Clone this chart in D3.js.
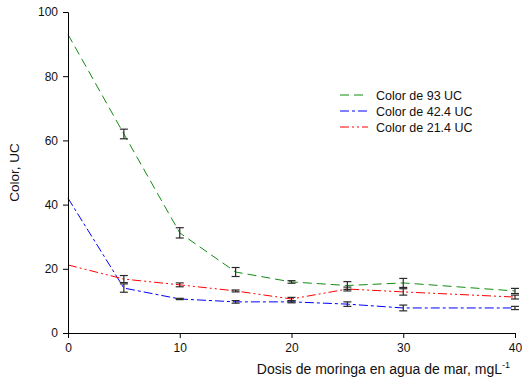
<!DOCTYPE html>
<html lang="en">
<head>
  <meta charset="UTF-8">
  <title>Color vs dosis de moringa</title>
  <style>
    body { margin: 0; background: #fff; }
    text { font-family: "Liberation Sans", Arial, sans-serif; fill: #111; }
  </style>
</head>
<body>
  <svg id="chart"></svg>

  <script src="https://d3js.org/d3.v7.min.js"></script>
  <script>
    const dosis = [0, 5, 10, 15, 20, 25, 30, 40];
    const color93 = [93, 62, 31.2, 19, 15.9, 14.8, 15.6, 13.1];
    const err93 = [0, 1.5, 1.6, 1.4, 0.4, 1.2, 1.4, 0.8];
    const color424 = [42, 14, 10.6, 9.7, 9.7, 9.0, 7.8, 7.8];
    const err424 = [0, 1.3, 0.2, 0.4, 0.3, 0.7, 0.9, 0.5];
    const color214 = [21.2, 16.8, 15, 13.1, 10.6, 13.7, 12.8, 11.2];
    const err214 = [0, 1.1, 0.6, 0.3, 0.5, 0.6, 1.0, 0.6];
    const seriesNames = ["Color de 93 UC", "Color de 42.4 UC", "Color de 21.4 UC"];
    const xTicks = [0, 10, 20, 30, 40];
    const yTicks = [0, 20, 40, 60, 80, 100];

    const W = 522, H = 387;
    const svg = d3.select("#chart")
      .attr("width", W)
      .attr("height", H);

    const x = d3.scaleLinear().domain([0, 40]).range([68, 515]);
    const y = d3.scaleLinear().domain([0, 100]).range([333, 12]);

    const series = [
      { name: seriesNames[0], vals: color93, err: err93, stroke: "#118c11", dash: "9,5" },
      { name: seriesNames[1], vals: color424, err: err424, stroke: "#0000ff", dash: "9,3,3,3" },
      { name: seriesNames[2], vals: color214, err: err214, stroke: "#ff0000", dash: "9,3,2,3,2,3" }
    ];

    const line = d3.line()
      .x((d, i) => x(dosis[i]))
      .y(d => y(d));

    series.forEach(s => {
      svg.append("path")
        .datum(s.vals)
        .attr("d", line)
        .attr("fill", "none")
        .attr("stroke", s.stroke)
        .attr("stroke-width", 1)
        .attr("stroke-dasharray", s.dash);
    });

    // error bars
    series.forEach(s => {
      const g = svg.append("g").attr("stroke", "#2a2a2a").attr("stroke-width", 1.2);
      s.vals.forEach((v, i) => {
        if (!s.err[i]) return;
        const cx = x(dosis[i]);
        const y1 = y(v + s.err[i]), y2 = y(v - s.err[i]);
        g.append("line").attr("x1", cx).attr("x2", cx).attr("y1", y1).attr("y2", y2);
        g.append("line").attr("x1", cx - 4).attr("x2", cx + 4).attr("y1", y1).attr("y2", y1);
        g.append("line").attr("x1", cx - 4).attr("x2", cx + 4).attr("y1", y2).attr("y2", y2);
      });
    });

    const xAxis = svg.append("g")
      .attr("transform", `translate(0,${y(0)})`)
      .call(d3.axisBottom(x).tickValues(xTicks).tickSize(5).tickPadding(5));
    const yAxis = svg.append("g")
      .attr("transform", `translate(${x(0)},0)`)
      .call(d3.axisLeft(y).tickValues(yTicks).tickSize(5).tickPadding(5));
    [xAxis, yAxis].forEach(a => {
      a.selectAll("text").style("font-size", "12px").attr("fill", "#111");
      a.selectAll("line, path").attr("stroke", "#000");
    });

    // axis titles
    const xt = svg.append("text")
      .attr("x", 510)
      .attr("y", 374)
      .attr("text-anchor", "end")
      .style("font-size", "14px")
      .text("Dosis de moringa en agua de mar, mgL");
    xt.append("tspan").attr("dy", -6).style("font-size", "9px").text("-1");

    svg.append("text")
      .attr("transform", `translate(19,${(y(0) + y(100)) / 2}) rotate(-90)`)
      .attr("text-anchor", "middle")
      .style("font-size", "13.5px")
      .text("Color, UC");

    // legend
    const legend = svg.append("g");
    series.forEach((s, i) => {
      const ly = 95 + i * 16;
      legend.append("line")
        .attr("x1", 340).attr("x2", 368)
        .attr("y1", ly).attr("y2", ly)
        .attr("stroke", s.stroke)
        .attr("stroke-dasharray", s.dash);
      legend.append("text")
        .attr("x", 376).attr("y", ly + 4.5)
        .style("font-size", "12.5px")
        .text(s.name);
    });
  </script>
</body>
</html>
